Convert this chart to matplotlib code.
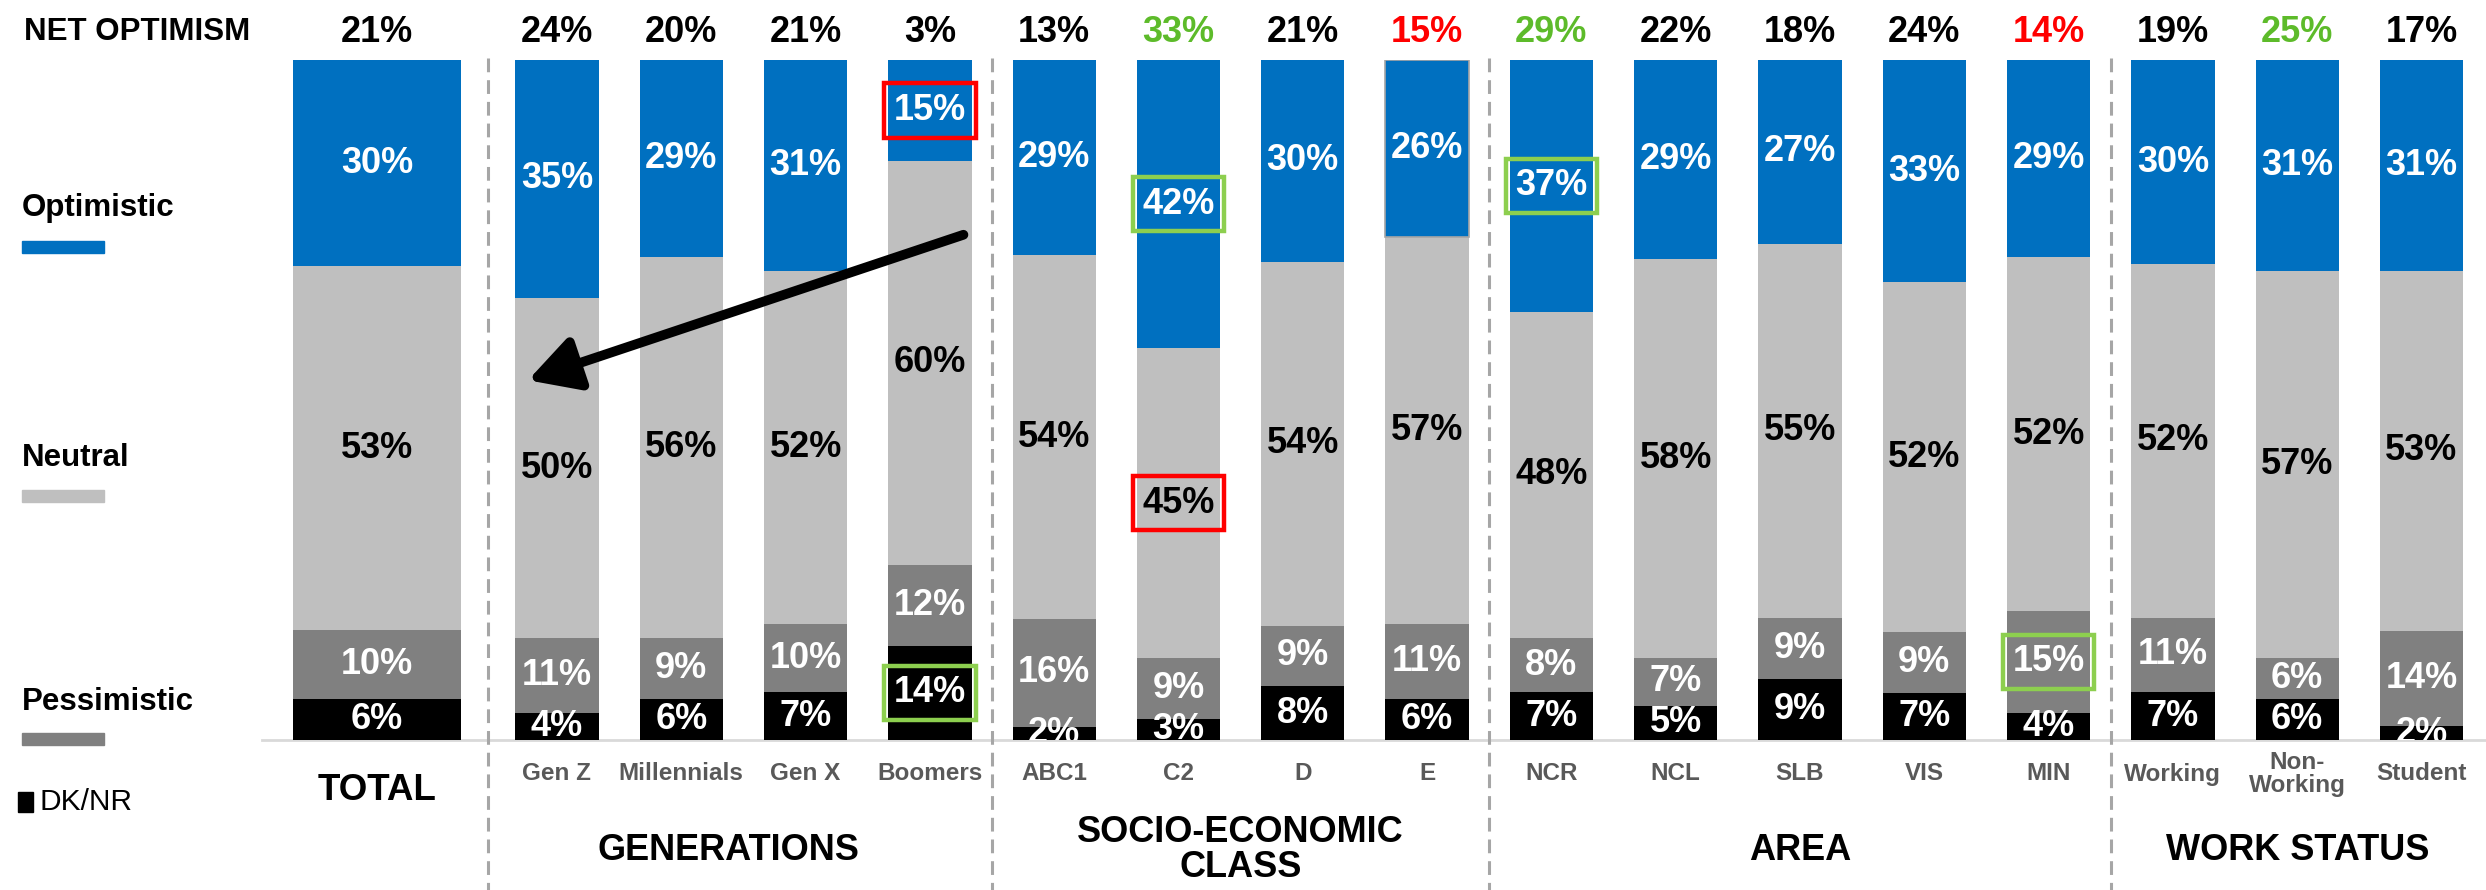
import matplotlib
matplotlib.use("Agg")
import matplotlib.pyplot as plt
from matplotlib.patches import Rectangle
import numpy as np

plt.rcParams['font.family'] = ['Liberation Sans', 'DejaVu Sans']

# ---------------- data ----------------
categories = ["TOTAL", "Gen Z", "Millennials", "Gen X", "Boomers",
              "ABC1", "C2", "D", "E",
              "NCR", "NCL", "SLB", "VIS", "MIN",
              "Working", "Non-\nWorking", "Student"]
dknr        = [6, 4, 6, 7, 14, 2, 3, 8, 6, 7, 5, 9, 7, 4, 7, 6, 2]
pessimistic = [10, 11, 9, 10, 12, 16, 9, 9, 11, 8, 7, 9, 9, 15, 11, 6, 14]
neutral     = [53, 50, 56, 52, 60, 54, 45, 54, 57, 48, 58, 55, 52, 52, 52, 57, 53]
optimistic  = [30, 35, 29, 31, 15, 29, 42, 30, 26, 37, 29, 27, 33, 29, 30, 31, 31]
net_optimism = [21, 24, 20, 21, 3, 13, 33, 21, 15, 29, 22, 18, 24, 14, 19, 25, 17]

groups = [("GENERATIONS", ["Gen Z", "Millennials", "Gen X", "Boomers"]),
          ("SOCIO-ECONOMIC\nCLASS", ["ABC1", "C2", "D", "E"]),
          ("AREA", ["NCR", "NCL", "SLB", "VIS", "MIN"]),
          ("WORK STATUS", ["Working", "Non-\nWorking", "Student"])]

# ---------------- styles ----------------
BLUE = "#0070C0"
LGRAY = "#BFBFBF"
DGRAY = "#808080"
BLACK = "#000000"
GREEN_TXT = "#5DBB2A"
GREEN_BOX = "#8DCF4F"
RED = "#FF0000"

net_colors = {"C2": GREEN_TXT, "E": RED, "NCR": GREEN_TXT, "MIN": RED, "Non-\nWorking": GREEN_TXT}
box_highlights = [("Boomers", "optimistic", RED), ("Boomers", "dknr", GREEN_BOX),
                  ("C2", "optimistic", GREEN_BOX), ("C2", "neutral", RED),
                  ("NCR", "optimistic", GREEN_BOX), ("MIN", "pessimistic", GREEN_BOX)]

W, H = 2486, 890
fig = plt.figure(figsize=(W / 100, H / 100), dpi=100)
ax = fig.add_axes([0, 150 / H, 1, 680 / H])
ax.set_xlim(-3.481, 16.519)
ax.set_ylim(0, 100)
ax.axis('off')

n = len(categories)
xs = np.array([1 - 1.448] + list(range(1, n)), dtype=float)
widths = np.array([1.35] + [0.67] * (n - 1))

series = [("dknr", dknr, BLACK, "white"),
          ("pessimistic", pessimistic, DGRAY, "white"),
          ("neutral", neutral, LGRAY, "black"),
          ("optimistic", optimistic, BLUE, "white")]

totals = np.sum([np.array(s[1], dtype=float) for s in series], axis=0)
bottom = np.zeros(n)
for key, vals, col, tcol in series:
    h = np.array(vals, dtype=float) / totals * 100
    ax.bar(xs, h, width=widths, bottom=bottom, color=col, edgecolor='none', zorder=2)
    for i in range(n):
        cy = bottom[i] + h[i] / 2
        hl = [b for b in box_highlights if b[0] == categories[i] and b[1] == key]
        bbox = None
        if hl:
            bbox = dict(boxstyle="square,pad=0.27", fc='none', ec=hl[0][2], lw=3.2)
        ax.text(xs[i], cy, f"{vals[i]}%", ha='center', va='center', color=tcol,
                fontsize=26, fontweight='bold', zorder=4, clip_on=(bbox is None), bbox=bbox)
    bottom += h

# E bar optimistic segment thin outline
iE = categories.index("E")
hE = optimistic[iE] / totals[iE] * 100
ax.bar(xs[iE], hE, width=widths[iE], bottom=100 - hE, color='none',
       edgecolor='#A6A6A6', lw=1.2, zorder=3)

# baseline
ax.plot([-1.37, 16.52], [0, 0], color='#D9D9D9', lw=2, zorder=1, clip_on=False)

# net optimism numbers
for i, c in enumerate(categories):
    ax.text(xs[i], 104.1, f"{net_optimism[i]}%", ha='center', va='center',
            fontsize=26, fontweight='bold', color=net_colors.get(c, BLACK), clip_on=False)

# category labels
for i, c in enumerate(categories):
    if c == "TOTAL":
        ax.text(xs[i], -7.4, c, ha='center', va='center', fontsize=26.5, fontweight='bold', clip_on=False)
    else:
        ax.text(xs[i], -5.0, c, ha='center', va='center', fontsize=17.5, fontweight='bold',
                color='#595959', clip_on=False, linespacing=0.95)

# group labels and separators
for gname, members in groups:
    idx = [categories.index(m) for m in members]
    cx = (xs[idx[0]] + xs[idx[-1]]) / 2
    if gname == "GENERATIONS":
        cx -= 0.12
    ax.text(cx, -16.2, gname, ha='center', va='center', fontsize=26, fontweight='bold',
            clip_on=False, linespacing=1.0)
    sep = xs[idx[0]] - 0.5 if idx[0] > 1 else (xs[0] + widths[0] / 2 + xs[1] - widths[1] / 2) / 2
    ax.plot([sep, sep], [100.3, -22], color='#A6A6A6', lw=2.2, ls=(0, (4.5, 2.6)), clip_on=False, zorder=1)

# arrow
ax.annotate("", xy=(0.767, 52.9), xytext=(4.27, 74.3),
            arrowprops=dict(arrowstyle='-|>,head_length=1.0,head_width=0.55', lw=7, color='black',
                            mutation_scale=30, shrinkA=0, shrinkB=0), zorder=6)

# legend-like side labels
fig.text(24 / W, 1 - 32 / H, "NET OPTIMISM", ha='left', va='center', fontsize=22.5, fontweight='bold')
legend_items = [("Optimistic", BLUE, 208, 241), ("Neutral", LGRAY, 458, 490), ("Pessimistic", DGRAY, 702, 733)]
for name, col, ty, py in legend_items:
    fig.text(22 / W, 1 - ty / H, name, ha='left', va='center', fontsize=22.5, fontweight='bold')
    fig.patches.append(Rectangle((22 / W, 1 - (py + 12) / H), 82 / W, 12 / H,
                                 transform=fig.transFigure, color=col))
fig.patches.append(Rectangle((18 / W, 1 - 812 / H), 15 / W, 20 / H, transform=fig.transFigure, color=BLACK))
fig.text(40 / W, 1 - 802 / H, "DK/NR", ha='left', va='center', fontsize=21.5)

fig.savefig("out.png", dpi=100)
